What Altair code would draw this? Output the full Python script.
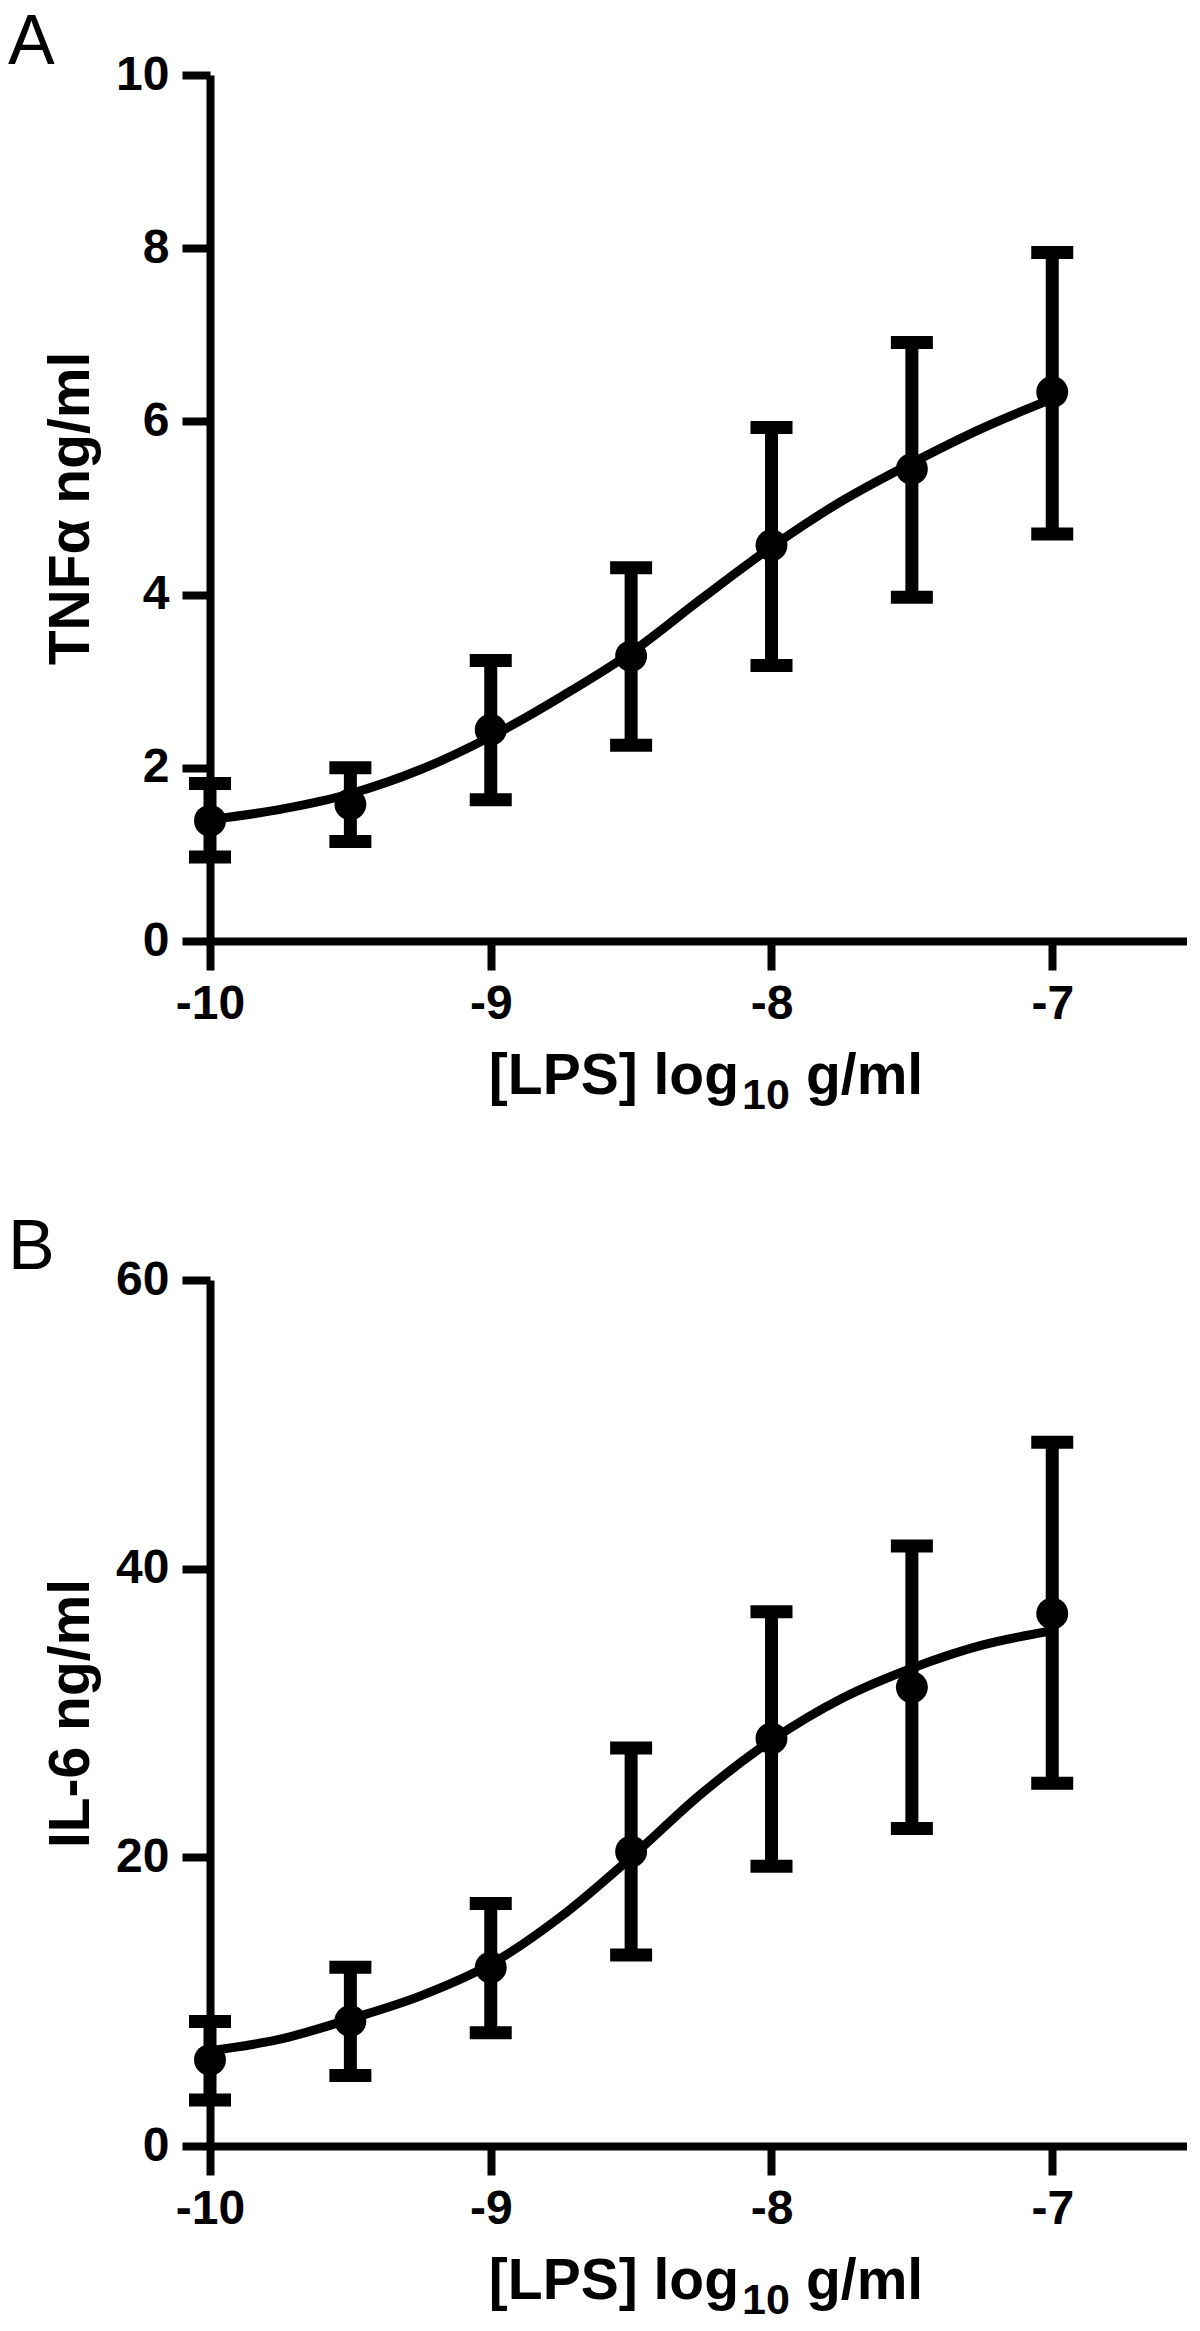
import altair as alt
import pandas as pd

# ---- data ----
log_lps = [-10, -9.5, -9, -8.5, -8, -7.5, -7]

tnf_mean = [1.39, 1.58, 2.44, 3.29, 4.57, 5.45, 6.34]
tnf_upper = [1.82, 2.00, 3.24, 4.31, 5.93, 6.91, 7.95]
tnf_lower = [0.97, 1.15, 1.63, 2.26, 3.18, 3.97, 4.70]

il6_mean = [5.97, 8.66, 12.37, 20.40, 28.24, 31.79, 36.89]
il6_upper = [8.62, 12.39, 16.80, 27.57, 37.02, 41.57, 48.76]
il6_lower = [3.18, 4.89, 7.84, 13.24, 19.38, 22.00, 25.14]

curve_x = [-10, -9.75, -9.5, -9.25, -9, -8.75, -8.5, -8.25, -8, -7.75, -7.5, -7.25, -7]
tnf_curve = [1.40, 1.52, 1.70, 1.98, 2.36, 2.82, 3.33, 3.95, 4.55, 5.08, 5.52, 5.92, 6.26]
il6_curve = [6.6, 7.4, 8.8, 10.4, 12.6, 15.9, 20.0, 24.4, 28.1, 31.0, 33.1, 34.7, 35.7]

x_ticks = [-10, -9, -8, -7]
tnf_ticks = [0, 2, 4, 6, 8, 10]
il6_ticks = [0, 20, 40, 60]

x_title_parts = ["[LPS] log", "10", "g/ml"]

FONT = "Liberation Sans"
W, H = 977, 866


def panel(letter, ytitle, mean, upper, lower, curve, ymax, yticks):
    pts = pd.DataFrame({"x": log_lps, "y": mean, "hi": upper, "lo": lower})
    cur = pd.DataFrame({"x": curve_x, "y": curve})

    xs = alt.Scale(domain=[-10, -6.52], nice=False, zero=False)
    ys = alt.Scale(domain=[0, ymax], nice=False)
    xax = alt.Axis(values=x_ticks, labelExpr="datum.value + ''", title=None,
                   grid=False, labelFlush=False, labelOverlap=False,
                   tickSize=29, labelPadding=10)
    yax = alt.Axis(values=yticks, title=ytitle, grid=False, labelOverlap=False,
                   tickSize=28, labelPadding=13, titleAngle=270,
                   titleX=-122, titleY=H / 2, titleBaseline="alphabetic",
                   titleAlign="center")

    X = alt.X("x:Q", scale=xs, axis=xax)

    line = alt.Chart(cur).mark_line(
        color="black", strokeWidth=9, interpolate="monotone"
    ).encode(x=X, y=alt.Y("y:Q", scale=ys, axis=yax))

    bars = alt.Chart(pts).mark_rule(color="black", strokeWidth=13).encode(
        x=X, y=alt.Y("lo:Q", scale=ys, axis=yax), y2="hi:Q"
    )
    cap_hi = alt.Chart(pts).mark_tick(
        color="black", orient="horizontal", size=42, thickness=13, opacity=1
    ).encode(x=X, y=alt.Y("hi:Q", scale=ys, axis=yax))
    cap_lo = alt.Chart(pts).mark_tick(
        color="black", orient="horizontal", size=42, thickness=13, opacity=1
    ).encode(x=X, y=alt.Y("lo:Q", scale=ys, axis=yax))
    dots = alt.Chart(pts).mark_circle(color="black", opacity=1, size=1018).encode(
        x=X, y=alt.Y("y:Q", scale=ys, axis=yax)
    )

    t_main = alt.Chart(pd.DataFrame({"t": [x_title_parts[0]]})).mark_text(
        font=FONT, fontWeight="bold", fontSize=57, align="right",
        baseline="alphabetic", color="black"
    ).encode(text="t:N", x=alt.value(529), y=alt.value(H + 153))
    t_sub = alt.Chart(pd.DataFrame({"t": [x_title_parts[1]]})).mark_text(
        font=FONT, fontWeight="bold", fontSize=43, align="left",
        baseline="alphabetic", color="black"
    ).encode(text="t:N", x=alt.value(532), y=alt.value(H + 168))
    t_end = alt.Chart(pd.DataFrame({"t": [x_title_parts[2]]})).mark_text(
        font=FONT, fontWeight="bold", fontSize=57, align="left",
        baseline="alphabetic", color="black"
    ).encode(text="t:N", x=alt.value(596), y=alt.value(H + 153))

    return alt.layer(line, bars, cap_hi, cap_lo, dots, t_main, t_sub, t_end).properties(
        width=W, height=H,
        title=alt.TitleParams(
            text=letter, anchor="start", frame="bounds", fontSize=70,
            fontWeight="normal", font=FONT, baseline="alphabetic",
            offset=-9, dx=-34, dy=74, color="black"
        ),
    )


pa = panel("A", "TNFα ng/ml", tnf_mean, tnf_upper, tnf_lower, tnf_curve, 10, tnf_ticks)
pb = panel("B", "IL-6 ng/ml", il6_mean, il6_upper, il6_lower, il6_curve, 60, il6_ticks)

chart = alt.vconcat(pa, pb, spacing=95).properties(padding=0).configure_view(
    stroke=None
).configure_axis(
    domainColor="black", domainWidth=8, tickColor="black", tickWidth=8,
    labelFont=FONT, labelFontWeight="bold", labelFontSize=48, labelColor="black",
    titleFont=FONT, titleFontWeight="bold", titleFontSize=57, titleColor="black",
)

chart.save("out.html", embed_options={"renderer": "svg", "actions": False})
